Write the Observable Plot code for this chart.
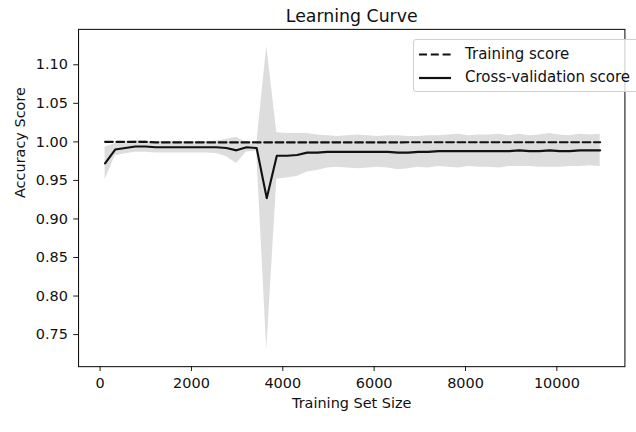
<!DOCTYPE html>
<html>
<head>
<meta charset="utf-8">
<script src="https://cdn.jsdelivr.net/npm/d3@7"></script>
<script src="https://cdn.jsdelivr.net/npm/@observablehq/plot@0.6"></script>
<style>
  html, body { margin: 0; padding: 0; background: #fff; }
  #wrap { position: relative; width: 636px; height: 432px; overflow: hidden; font-family: "DejaVu Sans", sans-serif; }
  #legend { position: absolute; left: 413px; top: 39px; width: 230px; height: 53px; box-sizing: border-box;
            border: 1px solid #d0d0d0; border-radius: 3px; background: rgba(255,255,255,0.8); }
  #legend svg { position: absolute; left: 0; top: 0; }
  #legend .lab { position: absolute; left: 51px; font-size: 15px; color: #111; line-height: 18px; white-space: nowrap; }
</style>
</head>
<body>
<div id="wrap"></div>
<script>
// ---- data ----
const title = "Learning Curve";
const xLabel = "Training Set Size";
const yLabel = "Accuracy Score";
const seriesNames = ["Training score", "Cross-validation score"];

const trainSizes = [109, 330, 551, 773, 994, 1215, 1436, 1657, 1879, 2100,
  2321, 2542, 2763, 2985, 3206, 3427, 3648, 3869, 4091, 4312,
  4533, 4754, 4975, 5197, 5418, 5639, 5860, 6081, 6303, 6524,
  6745, 6966, 7187, 7409, 7630, 7851, 8072, 8293, 8515, 8736,
  8957, 9178, 9399, 9621, 9842, 10063, 10284, 10505, 10727, 10948];

const trainMean = [1.000, 1.000, 1.000, 1.000, 1.000, 0.9993, 0.9993, 0.9993, 0.9993, 0.9993,
  0.9993, 0.9993, 0.9993, 0.9993, 0.9993, 0.9993, 0.9993, 0.9993, 0.9993, 0.9993,
  0.9993, 0.9993, 0.9993, 0.9993, 0.9993, 0.9993, 0.9993, 0.9993, 0.9993, 0.9993,
  0.9995, 0.9995, 0.9995, 0.9995, 0.9995, 0.9995, 0.9995, 0.9995, 0.9995, 0.9995,
  0.9995, 0.9995, 0.9995, 0.9995, 0.9995, 0.9995, 0.9995, 0.9995, 0.9995, 0.9995];

const trainStd = [0.0, 0.0, 0.0, 0.0, 0.0, 0.0005, 0.0005, 0.0005, 0.0005, 0.0005,
  0.0005, 0.0005, 0.0005, 0.0005, 0.0005, 0.0005, 0.0005, 0.0005, 0.0005, 0.0005,
  0.0005, 0.0005, 0.0005, 0.0005, 0.0005, 0.0005, 0.0005, 0.0005, 0.0005, 0.0005,
  0.0005, 0.0005, 0.0005, 0.0005, 0.0005, 0.0005, 0.0005, 0.0005, 0.0005, 0.0005,
  0.0005, 0.0005, 0.0005, 0.0005, 0.0005, 0.0005, 0.0005, 0.0005, 0.0005, 0.0005];

const cvMean = [0.972, 0.990, 0.992, 0.994, 0.994, 0.993, 0.993, 0.993, 0.993, 0.993,
  0.993, 0.993, 0.992, 0.989, 0.993, 0.992, 0.927, 0.982, 0.982, 0.983,
  0.986, 0.986, 0.987, 0.987, 0.987, 0.987, 0.987, 0.987, 0.987, 0.986,
  0.986, 0.987, 0.987, 0.988, 0.988, 0.988, 0.988, 0.988, 0.988, 0.988,
  0.988, 0.989, 0.988, 0.988, 0.989, 0.988, 0.988, 0.989, 0.989, 0.989];

const cvStd = [0.021, 0.008, 0.0075, 0.0075, 0.0075, 0.0075, 0.0075, 0.0075, 0.0075, 0.0075,
  0.0075, 0.008, 0.011, 0.017, 0.006, 0.004, 0.197, 0.030, 0.029, 0.028,
  0.025, 0.023, 0.021, 0.020, 0.021, 0.022, 0.021, 0.020, 0.021, 0.022,
  0.021, 0.020, 0.021, 0.020, 0.021, 0.022, 0.020, 0.021, 0.021, 0.022,
  0.020, 0.021, 0.020, 0.021, 0.022, 0.021, 0.020, 0.021, 0.020, 0.021];

const xTicks = [0, 2000, 4000, 6000, 8000, 10000];
const yTicks = [0.75, 0.80, 0.85, 0.90, 0.95, 1.00, 1.05, 1.10];

// ---- table built from arrays ----
const rows = trainSizes.map((s, i) => ({
  size: s,
  tm: trainMean[i], ts: trainStd[i],
  cm: cvMean[i], cs: cvStd[i]
}));

const font = "DejaVu Sans";
const ink = "#111";
const dash = "8,3.8";

const chart = Plot.plot({
  width: 660,
  height: 432,
  marginLeft: 81,
  marginRight: 12,
  marginTop: 30,
  marginBottom: 52,
  style: { fontFamily: font, fontSize: "15px", color: ink, background: "#fff" },
  x: { domain: [-472, 11490] },
  y: { domain: [0.7084, 1.1459] },
  marks: [
    Plot.areaY(rows, { x: "size", y1: d => d.tm - d.ts, y2: d => d.tm + d.ts, fill: "#DDDDDD" }),
    Plot.areaY(rows, { x: "size", y1: d => d.cm - d.cs, y2: d => d.cm + d.cs, fill: "#DDDDDD" }),
    Plot.lineY(rows, { x: "size", y: "tm", stroke: "#111", strokeWidth: 2.2, strokeDasharray: dash }),
    Plot.lineY(rows, { x: "size", y: "cm", stroke: "#111", strokeWidth: 2.2 }),
    Plot.frame({ stroke: "#111", strokeWidth: 1.1 }),
    Plot.axisX({ ticks: xTicks, tickFormat: d3.format("d"), tickSize: 5, tickPadding: 7,
                 fontSize: 15, label: null, stroke: "#111", fill: ink }),
    Plot.axisY({ ticks: yTicks, tickFormat: d3.format(".2f"), tickSize: 5, tickPadding: 6,
                 fontSize: 15, label: null, stroke: "#111", fill: ink }),
    Plot.text([xLabel], { frameAnchor: "bottom", lineAnchor: "middle", dy: 38, fontSize: 15, fill: ink }),
    Plot.text([yLabel], { frameAnchor: "left", lineAnchor: "middle", dx: -60, rotate: -90, fontSize: 15, fill: ink }),
    Plot.text([title], { frameAnchor: "top", lineAnchor: "middle", dy: -13.5, fontSize: 18, fill: ink })
  ]
});

const wrap = document.getElementById("wrap");
wrap.appendChild(chart);

// legend overlay
const legend = document.createElement("div");
legend.id = "legend";
const dashes = [dash, null];
let svg = '<svg width="230" height="53">';
seriesNames.forEach((n, i) => {
  const y = 14.5 + i * 23.5;
  svg += `<line x1="5" x2="37" y1="${y}" y2="${y}" stroke="#111" stroke-width="2.2"${dashes[i] ? ` stroke-dasharray="${dashes[i]}"` : ""}/>`;
});
svg += "</svg>";
legend.innerHTML = svg + seriesNames.map((n, i) =>
  `<div class="lab" style="top:${14.5 + i * 23.5 - 10}px">${n}</div>`).join("");
wrap.appendChild(legend);
</script>
</body>
</html>
